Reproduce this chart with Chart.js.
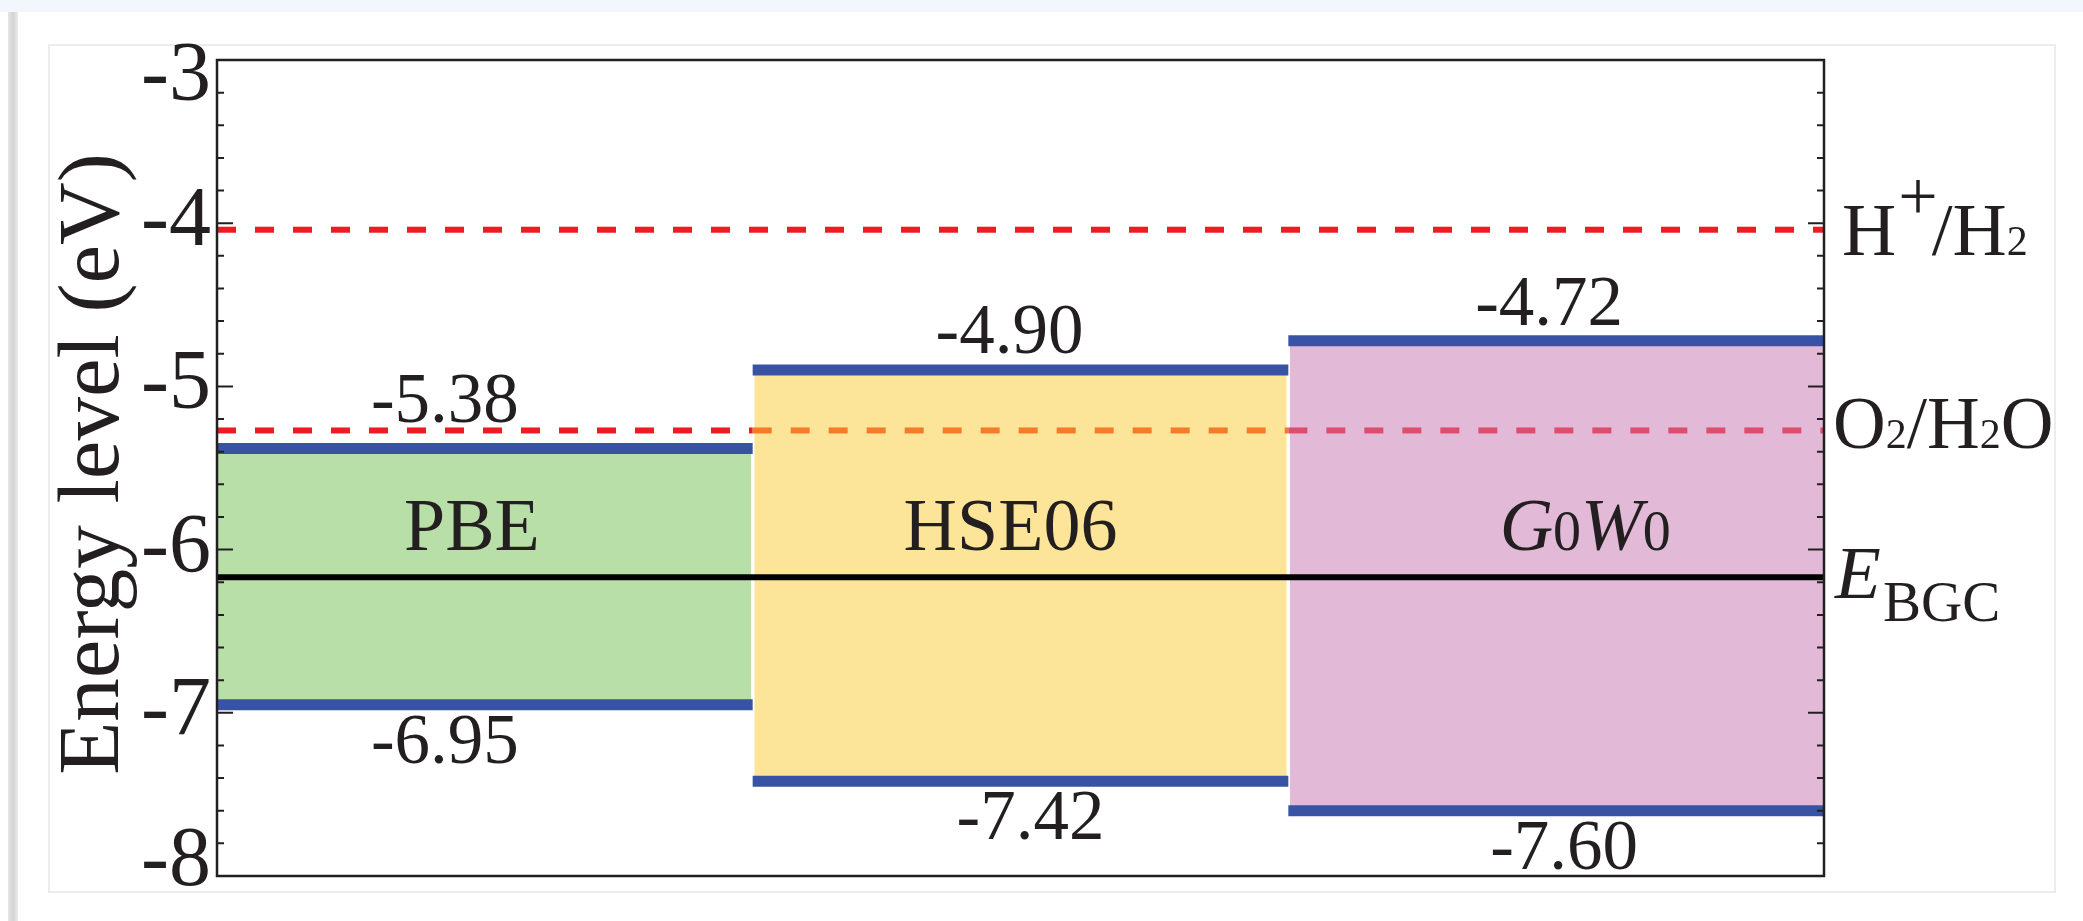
<!DOCTYPE html>
<html>
<head>
<meta charset="utf-8">
<title>Band edges vs. redox levels</title>
<script src="https://cdn.jsdelivr.net/npm/chart.js@4.4.1/dist/chart.umd.min.js"></script>
<style>
  html, body { margin: 0; padding: 0; background: #fff; }
  #wrap { position: relative; width: 2083px; height: 921px; overflow: hidden; }
  .topband { position: absolute; left: 0; top: 0; width: 2083px; height: 12px; background: #f3f7fb; }
  .leftbar { position: absolute; left: 8px; top: 12px; width: 10px; height: 909px;
             background: linear-gradient(to right, #e6e6e6, #d3d3d3 50%, #ebebeb); }
  .panel { position: absolute; left: 48px; top: 44px; width: 2008px; height: 849px;
           box-sizing: border-box; border: 2px solid #ececec; }
  canvas { position: absolute; left: 0; top: 0; }
</style>
</head>
<body>
<div id="wrap">
  <div class="topband"></div>
  <div class="leftbar"></div>
  <div class="panel"></div>
  <canvas id="chart" width="2083" height="921"></canvas>
</div>
<script>
// energies in eV
var methods = ['PBE', 'HSE06', 'G0W0'];
var cbm = [-5.38, -4.90, -4.72];
var vbm = [-6.95, -7.42, -7.60];
var hPlusLevel = -4.04;   // H+/H2
var o2Level = -5.27;      // O2/H2O
var bgcLevel = -6.17;     // E_BGC
var yTickLabels = [-3, -4, -5, -6, -7, -8];

var yMin = -8, yMax = -3;
var boxColors = ['#b9dfa8', '#fce598', '#e2b9d7'];
var o2Colors = ['#ed1c24', '#f47b2a', '#dc4d6e'];
var bandBlue = '#3953a4';
var ink = '#231f20';
var serif = '"Liberation Serif", "Times New Roman", serif';

var datasets = [];
var gap = 0.003;
for (var i = 0; i < methods.length; i++) {
  var x0 = i === 0 ? i : i + gap;
  var x1 = i === methods.length - 1 ? i + 1 : i + 1 - gap;
  datasets.push({
    label: methods[i],
    data: [{ x: x0, y: cbm[i] }, { x: x1, y: cbm[i] }],
    fill: { value: vbm[i] },
    backgroundColor: boxColors[i],
    borderWidth: 0,
    pointRadius: 0,
    order: 5
  });
}
datasets.push({
  label: 'E_BGC',
  data: [{ x: 0, y: bgcLevel }, { x: 3, y: bgcLevel }],
  borderColor: '#000',
  borderWidth: 6,
  pointRadius: 0,
  fill: false,
  order: 4
});
datasets.push({
  label: 'H+/H2',
  data: [{ x: 0, y: hPlusLevel }, { x: 3, y: hPlusLevel }],
  borderColor: o2Colors[0],
  borderDash: [19, 19],
  borderWidth: 6,
  pointRadius: 0,
  fill: false,
  order: 3
});
datasets.push({
  label: 'O2/H2O',
  data: [0, 1, 2, 3].map(function (x) { return { x: x, y: o2Level }; }),
  borderColor: o2Colors[0],
  segment: { borderColor: function (c) { return o2Colors[c.p0DataIndex]; } },
  borderDash: [19, 19],
  borderWidth: 6,
  pointRadius: 0,
  fill: false,
  order: 3
});
for (var j = 0; j < methods.length; j++) {
  [cbm[j], vbm[j]].forEach(function (e) {
    datasets.push({
      label: methods[j] + ' edge',
      data: [{ x: j, y: e }, { x: j + 1, y: e }],
      borderColor: bandBlue,
      borderWidth: 11,
      borderCapStyle: 'butt',
      pointRadius: 0,
      fill: false,
      order: 1
    });
  });
}

function drawRuns(ctx, runs, x, y, align) {
  var total = 0;
  runs.forEach(function (r) {
    ctx.font = r.font;
    r.w = ctx.measureText(r.text).width;
    total += r.w + (r.dx || 0);
  });
  if (align === 'center') x -= total / 2;
  runs.forEach(function (r) {
    x += r.dx || 0;
    ctx.font = r.font;
    ctx.fillText(r.text, x, y + (r.dy || 0));
    x += r.w;
  });
}

// label nudges relative to column centres / band lines (px)
var nameDx = [-13, -10, 29];
var cbDx = [-40, -11, -7];
var cbDy = [-26, -17, -16];
var vbDx = [-40, 10, 8];

var decor = {
  id: 'decor',
  afterDatasetsDraw: function (chart) {
    var ctx = chart.ctx, a = chart.chartArea;
    var ys = chart.scales.y, xs = chart.scales.x;
    ctx.save();
    ctx.strokeStyle = ink;
    ctx.lineWidth = 2.5;
    ctx.strokeRect(a.left, a.top, a.right - a.left, a.bottom - a.top);
    ctx.lineWidth = 2;
    for (var k = 0; k <= 25; k++) {
      var py = ys.getPixelForValue(yMax - k * 0.2);
      var len = (k % 5 === 0) ? 16 : 7;
      ctx.beginPath();
      ctx.moveTo(a.left, py); ctx.lineTo(a.left + len, py);
      ctx.moveTo(a.right, py); ctx.lineTo(a.right - len, py);
      ctx.stroke();
    }

    ctx.fillStyle = ink;
    ctx.textBaseline = 'alphabetic';
    var f71 = '71px ' + serif, f74 = '74px ' + serif;
    for (var i = 0; i < methods.length; i++) {
      var cx = xs.getPixelForValue(i + 0.5);
      drawRuns(ctx, [{ text: cbm[i].toFixed(2), font: f71 }], cx + cbDx[i], ys.getPixelForValue(cbm[i]) + cbDy[i], 'center');
      drawRuns(ctx, [{ text: vbm[i].toFixed(2), font: f71 }], cx + vbDx[i], ys.getPixelForValue(vbm[i]) + 58, 'center');
      var runs;
      if (methods[i] === 'G0W0') {
        runs = [
          { text: 'G', font: 'italic 74px ' + serif },
          { text: '0', font: '56px ' + serif },
          { text: 'W', font: 'italic 74px ' + serif },
          { text: '0', font: '56px ' + serif }
        ];
      } else {
        runs = [{ text: methods[i], font: f74 }];
      }
      drawRuns(ctx, runs, cx + nameDx[i], ys.getPixelForValue(-6.0), 'center');
    }

    // right side level names
    var f75 = '75px ' + serif, f73 = '73px ' + serif, fs = '42px ' + serif;
    drawRuns(ctx, [
      { text: 'H', font: f75 },
      { text: '+', font: '70px ' + serif, dy: -35, dx: 2 },
      { text: '/', font: f75, dx: -6 },
      { text: 'H', font: f75 },
      { text: '2', font: fs }
    ], a.right + 18, ys.getPixelForValue(hPlusLevel) + 25);
    drawRuns(ctx, [
      { text: 'O', font: f73 },
      { text: '2', font: fs },
      { text: '/', font: f73 },
      { text: 'H', font: f73 },
      { text: '2', font: fs },
      { text: 'O', font: f73 }
    ], a.right + 9, ys.getPixelForValue(o2Level) + 18);
    var ey = ys.getPixelForValue(bgcLevel);
    drawRuns(ctx, [{ text: 'E', font: 'italic 75px ' + serif }], a.right + 11, ey + 21);
    drawRuns(ctx, [{ text: 'BGC', font: '57px ' + serif }], a.right + 59, ey + 44);

    // axis title
    ctx.translate(118, (a.top + a.bottom) / 2 - 4);
    ctx.rotate(-Math.PI / 2);
    ctx.textAlign = 'center';
    ctx.font = '87px ' + serif;
    ctx.fillText('Energy level (eV)', 0, 0);
    ctx.restore();
  }
};

var chart = new Chart(document.getElementById('chart').getContext('2d'), {
  type: 'line',
  data: { datasets: datasets },
  options: {
    responsive: false,
    animation: false,
    devicePixelRatio: 1,
    events: [],
    layout: { padding: { left: 0, right: 259, top: 60, bottom: 45 } },
    plugins: { legend: { display: false }, tooltip: { enabled: false } },
    scales: {
      x: { type: 'linear', min: 0, max: 3, display: false },
      y: {
        type: 'linear',
        min: yMin,
        max: yMax,
        grid: { display: false, drawTicks: false },
        border: { display: false },
        afterBuildTicks: function (scale) {
          scale.ticks = yTickLabels.map(function (v) { return { value: v }; });
        },
        afterFit: function (scale) {
          scale.width = 217;
          scale.paddingTop = 0;
          scale.paddingBottom = 0;
        },
        ticks: {
          autoSkip: false,
          padding: 6,
          color: ink,
          // end labels sit inside the frame: a blank line nudges them inward
          font: function (c) {
            var v = c.tick ? c.tick.value : 0;
            var lh = v === yMax ? '36px' : (v === yMin ? '26px' : 1);
            return { family: serif, size: 84, lineHeight: lh };
          },
          callback: function (v) {
            if (v === yMax) return ['', String(v)];
            if (v === yMin) return [String(v), ''];
            return String(v);
          }
        }
      }
    }
  },
  plugins: [decor]
});
</script>
</body>
</html>
